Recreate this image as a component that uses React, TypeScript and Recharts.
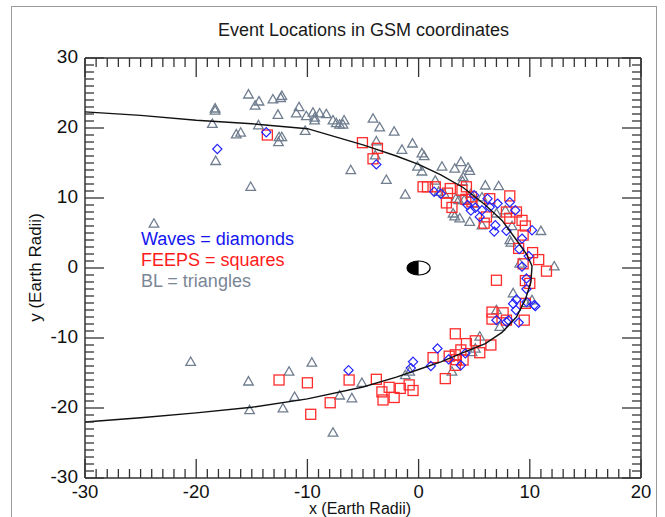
import React from 'react';
import { ScatterChart, Scatter, XAxis, YAxis } from 'recharts';

// BL = triangles (x, y in Earth radii)
const blPoints = [
  [-15.3, 24.8], [-14.35, 23.8], [-14.7, 23.2], [-13.1, 24.1], [-12.3, 24.6], [-12.4, 24.3],
  [-18.3, 22.5], [-18.3, 22.8], [-18.55, 20.6], [-12.65, 21.9], [-10.75, 23.0], [-11.0, 22.1],
  [-10.1, 21.7], [-9.5, 22.2], [-9.35, 21.5], [-9.35, 21.1], [-8.9, 22.1], [-8.3, 22.0],
  [-7.7, 21.1], [-7.4, 20.7], [-7.1, 20.5], [-6.8, 20.5], [-6.7, 21.1], [-14.4, 20.4],
  [-16.4, 19.1], [-16.0, 19.35], [-10.2, 19.6], [-12.55, 18.7], [-12.6, 18.0], [-12.3, 18.7],
  [-18.25, 15.3], [-15.1, 11.6], [-4.1, 21.35], [-3.5, 20.1], [-2.2, 19.5], [-3.8, 18.1],
  [-0.55, 17.8], [-1.5, 16.9], [-6.1, 14.0], [-2.9, 12.6], [-1.2, 10.5], [-3.9, 16.1],
  [-0.1, 14.5], [0.3, 16.4], [0.5, 16.0], [0.3, 13.8], [2.1, 14.5], [3.25, 14.2],
  [3.8, 15.15], [4.45, 14.35], [4.6, 13.9], [4.0, 13.0], [3.95, 12.4], [1.5, 12.5],
  [6.0, 11.8], [7.2, 11.7], [1.8, 10.9], [2.3, 10.6], [3.35, 9.9], [3.6, 9.7], [4.1, 9.7],
  [4.7, 10.6], [3.1, 7.8], [3.25, 7.4], [3.7, 7.1], [4.6, 6.6], [5.7, 6.1], [7.0, 7.8],
  [7.8, 8.25], [8.4, 6.0], [11.0, 5.3], [8.2, 4.0], [5.7, 10.1], [5.0, 9.2],
  [8.3, 3.65], [9.1, 0.65], [12.2, 0.25], [8.5, -3.6], [10.2, -4.6], [7.0, -6.0],
  [7.3, -8.4], [5.5, -9.8], [9.65, -5.0], [5.1, -11.5], [4.8, -12.0], [3.0, -14.8],
  [-1.2, -15.3], [-0.8, -14.8], [-5.1, -16.4], [-7.1, -18.2], [-6.0, -18.6],
  [-20.5, -13.4], [-15.3, -16.2], [-15.2, -20.3], [-12.2, -20.05], [-11.65, -14.8],
  [-11.15, -18.4], [-9.6, -13.5], [-7.7, -23.5], [-23.8, 6.35],
];

// FEEPS = squares
const feepsPoints = [
  [-13.6, 19.0], [-5.05, 17.9], [-3.7, 17.1], [-4.1, 15.6],
  [0.4, 11.6], [0.8, 11.6], [1.5, 11.6], [2.85, 11.35], [2.6, 10.7], [2.5, 9.3], [3.0, 8.65],
  [3.9, 11.1], [4.3, 11.6], [4.75, 10.15], [4.25, 9.8], [4.8, 9.45], [6.4, 9.9], [6.1, 7.3],
  [5.9, 6.4], [8.2, 10.3], [7.9, 8.0], [8.2, 7.1], [8.8, 8.0], [9.3, 6.8], [9.6, 6.0],
  [9.4, 4.7], [9.0, 2.8], [10.25, 2.2], [10.8, 1.2], [11.5, -0.45], [7.0, -1.75], [9.6, -1.8],
  [10.0, -2.2], [9.6, -5.05], [6.6, -6.3], [7.6, -6.4], [6.6, -7.3], [7.9, -7.45], [9.5, -7.45],
  [9.4, 0.6], [3.3, -9.4], [4.3, -10.8], [5.1, -10.4], [6.5, -11.0], [5.5, -12.1], [3.8, -11.7],
  [3.3, -12.4], [2.75, -12.6], [3.4, -13.1], [4.0, -13.15], [3.3, -13.9], [1.3, -12.8],
  [2.4, -15.8], [-3.8, -15.9], [-6.25, -16.0], [-3.3, -17.7], [-2.65, -17.05], [-1.65, -17.2],
  [-0.85, -16.7], [-0.5, -17.5], [-3.2, -18.85], [-2.2, -18.5], [-7.95, -19.25],
  [-12.55, -16.0], [-10.0, -16.4], [-9.7, -20.9],
];

// Waves = diamonds
const wavePoints = [
  [-18.1, 17.0], [-13.7, 19.4], [-3.8, 14.8], [1.4, 10.9], [2.0, 10.6], [5.0, 10.4],
  [4.7, 8.2], [5.1, 8.6], [5.5, 7.3], [6.2, 9.9], [7.1, 9.2], [6.4, 8.7], [4.4, 9.0],
  [6.9, 6.1], [6.8, 5.2], [7.9, 5.3], [8.7, 8.25], [8.2, 9.4], [9.3, 4.2], [9.9, 1.7],
  [10.2, 5.4], [5.7, 8.25], [9.05, 2.7], [9.3, 0.2], [9.7, -1.5], [9.7, -3.0], [8.8, -4.5],
  [8.5, -5.1], [8.75, -6.0], [9.7, -4.85], [10.5, -5.45], [8.1, -7.5], [9.0, -7.8],
  [7.0, -7.45], [10.4, -5.3], [7.9, -7.7], [1.7, -11.5], [4.2, -12.2], [3.8, -13.9],
  [2.7, -13.05], [1.1, -14.0], [-0.5, -13.4], [-0.7, -14.3], [-6.3, -14.6],
];

// model magnetopause boundary
const boundary = [
  [-30, 22.3], [-25, 21.8], [-20, 21.1], [-15, 20.6], [-10, 19.9], [-5, 17.6], [-2, 16.0],
  [0, 14.8], [2, 13.3], [4, 11.5], [6, 9.0], [7.5, 6.8], [8.8, 4.0], [9.7, 2.0], [10.2, 0.3],
  [10.1, -2.0], [9.6, -4.5], [8.8, -7.0], [7.5, -9.2], [6, -10.8], [4, -12.1], [2, -13.4],
  [0, -14.5], [-2, -15.6], [-5, -17.0], [-10, -18.7], [-15, -19.9], [-20, -20.7],
  [-25, -21.4], [-30, -22.0],
];

const earth = [[0, 0]];

const xMajor = [-30, -20, -10, 0, 10, 20];
const yMajor = [-30, -20, -10, 0, 10, 20, 30];
const xTicks: number[] = [];
for (let v = -30; v <= 20; v++) xTicks.push(v);
const yTicks: number[] = [];
for (let v = -30; v <= 30; v++) yTicks.push(v);

const toObj = (arr: number[][]) => arr.map(([x, y]) => ({ x, y }));

const FONT = '"Liberation Sans", Arial, Helvetica, sans-serif';
const AXIS = '#333';

const makeTick = (side: string, majors: number[]) => (props: any) => {
  const { x, y, payload } = props;
  const v = payload.value;
  const major = majors.includes(v);
  const len = major ? 19 : 9;
  let line;
  if (side === 'bottom') line = <line x1={x} y1={y} x2={x} y2={y - len} />;
  else if (side === 'top') line = <line x1={x} y1={y} x2={x} y2={y + len} />;
  else if (side === 'left') line = <line x1={x} y1={y} x2={x + len} y2={y} />;
  else line = <line x1={x} y1={y} x2={x - len} y2={y} />;
  return (
    <g stroke={AXIS} strokeWidth={1.3}>
      {line}
      {major && side === 'bottom' && (
        <text x={x} y={y + 20} textAnchor="middle" fontSize={18.5} fill="#111" stroke="none" fontFamily={FONT}>
          {v}
        </text>
      )}
      {major && side === 'left' && (
        <text x={x - 7} y={y + 5} textAnchor="end" fontSize={19} fill="#111" stroke="none" fontFamily={FONT}>
          {v}
        </text>
      )}
    </g>
  );
};

const Triangle = (p: any) => (
  <polygon
    points={`${p.cx},${p.cy - 4.8} ${p.cx - 4.8},${p.cy + 3.6} ${p.cx + 4.8},${p.cy + 3.6}`}
    fill="none" stroke="#6f7d8f" strokeWidth={1.3}
  />
);

const Square = (p: any) => (
  <rect x={p.cx - 5} y={p.cy - 5} width={10} height={10} fill="none" stroke="#ff2b2b" strokeWidth={1.3} />
);

const Diamond = (p: any) => (
  <polygon
    points={`${p.cx},${p.cy - 4.6} ${p.cx + 4.6},${p.cy} ${p.cx},${p.cy + 4.6} ${p.cx - 4.6},${p.cy}`}
    fill="none" stroke="#2323ff" strokeWidth={1.2}
  />
);

const Earth = (p: any) => {
  const rx = 11.5, ry = 7;
  return (
    <g>
      <ellipse cx={p.cx} cy={p.cy} rx={rx} ry={ry} fill="#fff" stroke="#000" strokeWidth={1.2} />
      <path d={`M${p.cx},${p.cy - ry} A${rx},${ry} 0 0 0 ${p.cx},${p.cy + ry} Z`} fill="#000" />
    </g>
  );
};

const Nothing = () => <g />;

export default function App() {
  return (
    <div style={{ position: 'absolute', left: 0, top: 0, width: 665, height: 517, background: '#fff', fontFamily: FONT, overflow: 'hidden' }}>
      {/* figure frame */}
      <div style={{ position: 'absolute', left: 11, top: 6, width: 644, height: 530, border: '1.5px solid #9a9a9a' }} />
      <div style={{ position: 'absolute', left: 0, width: 727, top: 20, textAlign: 'center', fontSize: 18, color: '#1a1a1a' }}>
        Event Locations in GSM coordinates
      </div>
      <ScatterChart width={665} height={517} margin={{ top: 57, left: 84, right: 23, bottom: 38 }} style={{ position: 'absolute', left: 0, top: 0 }}>
        <XAxis xAxisId="b" type="number" dataKey="x" domain={[-30, 20]} ticks={xTicks} interval={0}
          tickSize={0} tickMargin={0} height={1} allowDataOverflow
          axisLine={{ stroke: AXIS, strokeWidth: 1.5 }} tick={makeTick('bottom', xMajor)} />
        <XAxis xAxisId="t" orientation="top" type="number" dataKey="x" domain={[-30, 20]} ticks={xTicks} interval={0}
          tickSize={0} tickMargin={0} height={1} allowDataOverflow
          axisLine={{ stroke: AXIS, strokeWidth: 1.5 }} tick={makeTick('top', xMajor)} />
        <YAxis yAxisId="l" type="number" dataKey="y" domain={[-30, 30]} ticks={yTicks} interval={0}
          tickSize={0} tickMargin={0} width={1} allowDataOverflow
          axisLine={{ stroke: AXIS, strokeWidth: 1.5 }} tick={makeTick('left', yMajor)} />
        <YAxis yAxisId="r" orientation="right" type="number" dataKey="y" domain={[-30, 30]} ticks={yTicks} interval={0}
          tickSize={0} tickMargin={0} width={1} allowDataOverflow
          axisLine={{ stroke: AXIS, strokeWidth: 1.5 }} tick={makeTick('right', yMajor)} />
        <Scatter data={toObj(blPoints)} xAxisId="b" yAxisId="l" shape={Triangle} isAnimationActive={false} />
        <Scatter data={toObj(feepsPoints)} xAxisId="b" yAxisId="l" shape={Square} isAnimationActive={false} />
        <Scatter data={toObj(wavePoints)} xAxisId="b" yAxisId="l" shape={Diamond} isAnimationActive={false} />
        <Scatter data={toObj(boundary)} xAxisId="t" yAxisId="r" shape={Nothing}
          line={{ stroke: '#111', strokeWidth: 1.4 }} lineType="joint" isAnimationActive={false} />
        <Scatter data={toObj(earth)} xAxisId="b" yAxisId="l" shape={Earth} isAnimationActive={false} />
      </ScatterChart>
      {/* in-plot legend */}
      <div style={{ position: 'absolute', left: 141, top: 229, fontSize: 18, lineHeight: '21px' }}>
        <div style={{ color: '#1515f0' }}>Waves = diamonds</div>
        <div style={{ color: '#ff1a1a' }}>FEEPS = squares</div>
        <div style={{ color: '#7a8696' }}>BL = triangles</div>
      </div>
      <div style={{ position: 'absolute', left: 260, width: 200, top: 501, textAlign: 'center', fontSize: 16, lineHeight: '16px', color: '#111' }}>
        x (Earth Radii)
      </div>
      <div style={{ position: 'absolute', left: 35 - 100, width: 200, top: 259, textAlign: 'center', fontSize: 17, lineHeight: '17px', color: '#111', transform: 'rotate(-90deg)' }}>
        y (Earth Radii)
      </div>
    </div>
  );
}
